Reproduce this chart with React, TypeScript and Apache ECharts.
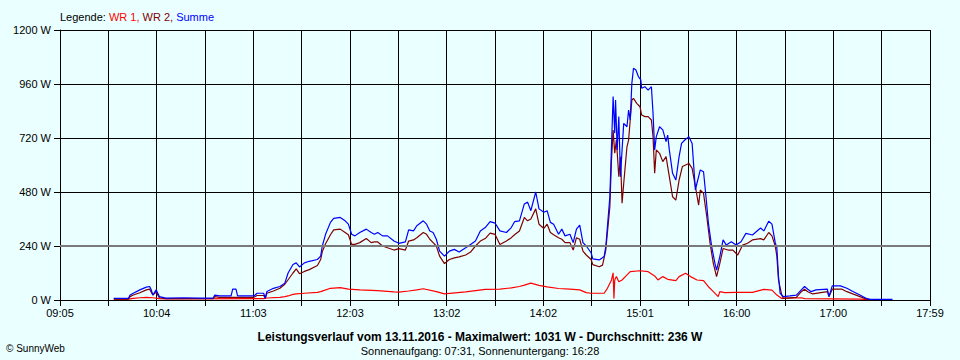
import React, { useEffect, useRef } from "react";
import * as echarts from "echarts";

// X axis tick labels (every second grid line carries a label)
const xTickLabels = ["09:05", "10:04", "11:03", "12:03", "13:02", "14:02", "15:01", "16:00", "17:00", "17:59"];
const yMax = 1200;
const yStep = 240;

const titleText = "Leistungsverlauf vom 13.11.2016 - Maximalwert: 1031 W - Durchschnitt: 236 W";
const subText = "Sonnenaufgang: 07:31, Sonnenuntergang: 16:28";

// WR 1 (red)
const wr1: [string, number][] = [
  ["09:38", 4], ["09:47", 4], ["09:50", 7], ["09:54", 10], ["09:58", 12], ["10:02", 10], ["10:06", 6],
  ["10:10", 5], ["11:10", 6], ["11:12", 9], ["11:20", 12], ["11:23", 15], ["11:25", 18], ["11:28", 25],
  ["11:30", 27], ["11:35", 30], ["11:43", 34], ["11:45", 37], ["11:51", 52], ["11:57", 55], ["12:02", 48],
  ["12:09", 45], ["12:20", 42], ["12:30", 36], ["12:33", 35], ["12:39", 40], ["12:44", 45], ["12:48", 50],
  ["12:56", 37], ["13:01", 27], ["13:14", 36], ["13:20", 42], ["13:26", 47], ["13:35", 48], ["13:42", 54],
  ["13:47", 60], ["13:50", 66], ["13:54", 75], ["13:59", 65], ["14:04", 58], ["14:11", 51], ["14:18", 48],
  ["14:24", 45], ["14:28", 33], ["14:31", 30], ["14:39", 30], ["14:41", 52], ["14:43:30", 89], ["14:44:30", 121],
  ["14:45", 7], ["14:45:30", 89], ["14:46:30", 104], ["14:48", 81], ["14:50", 89], ["14:52", 104], ["14:55", 126],
  ["15:01", 130], ["15:06", 126], ["15:10", 107], ["15:12", 89], ["15:15", 104], ["15:18", 92], ["15:23", 86],
  ["15:25", 104], ["15:29", 119], ["15:32", 104], ["15:36", 89], ["15:40", 86], ["15:43", 59], ["15:46", 37],
  ["15:49", 15], ["15:50", 37], ["15:53", 33], ["16:00", 34], ["16:10", 34], ["16:17", 47], ["16:22", 44],
  ["16:25", 22], ["16:28", 7], ["16:40", 10], ["16:42", 6], ["17:16", 4], ["17:22", 1],
];

// WR 2 (dark red)
const wr2: [string, number][] = [
  ["09:38", 4], ["09:47", 4], ["09:48", 15], ["09:50", 22], ["09:54", 32], ["09:58", 45], ["10:00", 48],
  ["10:01", 35], ["10:02", 22], ["10:04", 35], ["10:06", 10], ["10:08", 8], ["10:10", 6], ["10:39", 6],
  ["10:40", 15], ["10:43", 12], ["11:04", 12], ["11:06", 20], ["11:10", 20], ["11:11", 8], ["11:12", 30],
  ["11:16", 40], ["11:20", 52], ["11:23", 70], ["11:25", 90], ["11:28", 120], ["11:30", 138], ["11:32", 117],
  ["11:35", 127], ["11:38", 135], ["11:43", 153], ["11:45", 180], ["11:46", 215], ["11:48", 250], ["11:51", 290],
  ["11:53", 312], ["11:57", 315], ["12:00", 300], ["12:02", 290], ["12:04", 247], ["12:06", 247], ["12:09", 255],
  ["12:13", 273], ["12:16", 255], ["12:18", 258], ["12:20", 258], ["12:23", 240], ["12:26", 232], ["12:30", 222],
  ["12:33", 228], ["12:37", 222], ["12:39", 262], ["12:42", 267], ["12:44", 277], ["12:48", 300], ["12:50", 292],
  ["12:52", 270], ["12:54", 255], ["12:56", 240], ["12:58", 195], ["13:01", 162], ["13:04", 180], ["13:07", 187],
  ["13:10", 192], ["13:14", 200], ["13:17", 213], ["13:20", 240], ["13:23", 262], ["13:26", 273], ["13:29", 297],
  ["13:32", 292], ["13:35", 247], ["13:39", 262], ["13:42", 277], ["13:44", 290], ["13:47", 307], ["13:50", 367],
  ["13:52", 352], ["13:54", 360], ["13:57", 405], ["13:59", 337], ["14:02", 318], ["14:04", 337], ["14:06", 300],
  ["14:08", 290], ["14:11", 277], ["14:13", 270], ["14:15", 255], ["14:18", 255], ["14:20", 222], ["14:22", 277],
  ["14:24", 270], ["14:26", 217], ["14:28", 200], ["14:31", 180], ["14:32", 157], ["14:36", 148], ["14:38", 155],
  ["14:40", 222], ["14:42:30", 415], ["14:43:30", 622], ["14:44:30", 755], ["14:45:30", 652], ["14:46:30", 711],
  ["14:48", 548], ["14:49", 637], ["14:50", 430], ["14:51", 518], ["14:53", 681], ["14:54", 711], ["14:56", 889],
  ["14:57", 896], ["14:59", 874], ["15:01", 859], ["15:02", 822], ["15:04", 815], ["15:06", 815], ["15:08", 800],
  ["15:09", 726], ["15:10", 563], ["15:11", 667], ["15:13", 652], ["15:15", 615], ["15:17", 637], ["15:19", 548],
  ["15:21", 459], ["15:23", 444], ["15:25", 533], ["15:27", 593], ["15:31", 607], ["15:33", 585], ["15:35", 504],
  ["15:37", 422], ["15:38", 489], ["15:40", 474], ["15:42", 370], ["15:44", 252], ["15:46", 163], ["15:48", 104],
  ["15:50", 163], ["15:52", 229], ["15:55", 222], ["15:58", 222], ["16:01", 200], ["16:04", 244], ["16:07", 252],
  ["16:10", 267], ["16:15", 273], ["16:17", 267], ["16:20", 300], ["16:22", 285], ["16:24", 240], ["16:25", 195],
  ["16:26", 90], ["16:28", 22], ["16:29", 7], ["16:37", 12], ["16:40", 37], ["16:42", 48], ["16:44", 37],
  ["16:47", 27], ["16:56", 37], ["16:57", 15], ["16:59", 48], ["17:05", 48], ["17:08", 37], ["17:16", 15],
  ["17:20", 4], ["17:22", 3],
];

// Summe (blue)
const summe: [string, number][] = [
  ["09:38", 7], ["09:47", 7], ["09:48", 22], ["09:50", 30], ["09:54", 45], ["09:58", 57], ["10:00", 60],
  ["10:01", 45], ["10:02", 22], ["10:04", 45], ["10:06", 15], ["10:08", 12], ["10:10", 8], ["10:21", 10],
  ["10:31", 8], ["10:39", 8], ["10:40", 22], ["10:43", 18], ["10:50", 18], ["10:51", 48], ["10:53", 48],
  ["10:54", 18], ["11:04", 18], ["11:06", 30], ["11:10", 30], ["11:11", 8], ["11:12", 38], ["11:16", 52],
  ["11:20", 60], ["11:23", 75], ["11:25", 120], ["11:28", 158], ["11:30", 165], ["11:32", 147], ["11:35", 165],
  ["11:38", 172], ["11:43", 180], ["11:45", 195], ["11:46", 240], ["11:48", 292], ["11:51", 345], ["11:53", 363],
  ["11:57", 367], ["12:00", 352], ["12:02", 337], ["12:04", 292], ["12:06", 285], ["12:09", 300], ["12:13", 315],
  ["12:16", 300], ["12:18", 292], ["12:20", 300], ["12:23", 285], ["12:26", 285], ["12:30", 262], ["12:33", 252],
  ["12:37", 258], ["12:39", 312], ["12:42", 307], ["12:44", 330], ["12:48", 352], ["12:50", 337], ["12:52", 307],
  ["12:54", 300], ["12:56", 270], ["12:58", 217], ["13:01", 195], ["13:04", 217], ["13:07", 225], ["13:10", 213],
  ["13:14", 232], ["13:17", 247], ["13:20", 262], ["13:23", 307], ["13:26", 322], ["13:29", 348], ["13:32", 342],
  ["13:35", 307], ["13:39", 300], ["13:42", 322], ["13:44", 348], ["13:47", 352], ["13:50", 427], ["13:52", 435],
  ["13:54", 397], ["13:57", 480], ["13:59", 405], ["14:02", 390], ["14:04", 397], ["14:06", 345], ["14:08", 337],
  ["14:11", 292], ["14:13", 315], ["14:15", 285], ["14:18", 292], ["14:20", 255], ["14:22", 315], ["14:24", 333],
  ["14:26", 255], ["14:28", 240], ["14:31", 210], ["14:32", 183], ["14:36", 178], ["14:39", 193], ["14:40", 237],
  ["14:42:30", 459], ["14:43:30", 681], ["14:44:30", 904], ["14:45:30", 741], ["14:46", 889], ["14:47", 667],
  ["14:48", 815], ["14:49", 548], ["14:50", 667], ["14:51", 785], ["14:53", 770], ["14:54", 844], ["14:55", 800],
  ["14:56", 963], ["14:57", 1030], ["14:58:30", 1022], ["15:00", 993], ["15:01:30", 978], ["15:02", 941],
  ["15:04", 948], ["15:06", 933], ["15:08", 948], ["15:09", 830], ["15:10", 667], ["15:11", 726], ["15:13", 770],
  ["15:15", 756], ["15:17", 704], ["15:18", 733], ["15:19", 667], ["15:21", 563], ["15:23", 533], ["15:25", 637],
  ["15:26:30", 696], ["15:28:30", 711], ["15:31", 726], ["15:33", 696], ["15:35", 489], ["15:36", 520],
  ["15:38", 578], ["15:40", 570], ["15:41:30", 459], ["15:43", 341], ["15:45", 237], ["15:47", 163], ["15:48", 133],
  ["15:50", 193], ["15:52", 267], ["15:54", 244], ["15:57", 259], ["16:00", 244], ["16:03", 259], ["16:06", 296],
  ["16:10", 289], ["16:15", 320], ["16:17", 307], ["16:20", 350], ["16:22", 337], ["16:24", 255], ["16:25", 232],
  ["16:26", 105], ["16:27", 30], ["16:29", 15], ["16:33", 18], ["16:37", 22], ["16:40", 45], ["16:42", 60],
  ["16:44", 48], ["16:46", 37], ["16:49", 45], ["16:56", 48], ["16:57", 15], ["16:59", 63], ["17:04", 63],
  ["17:08", 52], ["17:12", 37], ["17:16", 22], ["17:20", 7], ["17:22", 3], ["17:36", 3],
];

const START_MIN = 9 * 60 + 5;
const END_MIN = 17 * 60 + 59;
const GRID_STEPS = 18;
const STEP_MIN = (END_MIN - START_MIN) / GRID_STEPS;

function toX(t: string): number {
  const p = t.split(":").map(Number);
  const m = p[0] * 60 + p[1] + (p[2] || 0) / 60;
  return (m - START_MIN) / STEP_MIN;
}

const FONT = "Liberation Sans, Arial, sans-serif";

export default function App() {
  const ref = useRef<HTMLDivElement>(null);

  useEffect(() => {
    if (!ref.current) return;
    const chart = echarts.init(ref.current, undefined, { renderer: "svg" });
    const mk = (d: [string, number][]) => d.map(([t, v]) => [toX(t), v]);
    chart.setOption({
      animation: false,
      backgroundColor: "#EAFFFF",
      textStyle: { fontFamily: FONT },
      grid: { left: 60, right: 30, top: 30, bottom: 60 },
      xAxis: {
        type: "value",
        min: 0,
        max: GRID_STEPS,
        interval: 1,
        axisLine: { show: true, lineStyle: { color: "#000", width: 1 } },
        axisTick: { show: true, length: 6, lineStyle: { color: "#000", width: 1 } },
        axisLabel: {
          interval: 0,
          color: "#000",
          fontSize: 11,
          fontFamily: FONT,
          margin: 7,
          formatter: (v: number) => {
            const i = Math.round(v);
            return i % 2 === 0 ? xTickLabels[i / 2] ?? "" : "";
          },
        },
        splitLine: { show: true, lineStyle: { color: "#000", width: 1 } },
      },
      yAxis: {
        type: "value",
        min: 0,
        max: yMax,
        interval: yStep,
        axisLine: { show: true, lineStyle: { color: "#000", width: 1 } },
        axisTick: { show: true, length: 6, lineStyle: { color: "#000", width: 1 } },
        axisLabel: {
          color: "#000",
          fontSize: 11,
          fontFamily: FONT,
          margin: 9,
          formatter: (v: number) => `${Math.round(v)} W`,
        },
        splitLine: { show: true, lineStyle: { color: "#000", width: 1 } },
      },
      series: [
        {
          name: "WR 1",
          type: "line",
          data: mk(wr1),
          symbol: "none",
          lineStyle: { color: "#FF0000", width: 1.2 },
          itemStyle: { color: "#FF0000" },
          markLine: {
            silent: true,
            symbol: ["none", "none"],
            label: { show: false },
            lineStyle: { color: "#7a7a7a", width: 2, type: "solid" },
            data: [{ yAxis: 240 }],
          },
        },
        {
          name: "WR 2",
          type: "line",
          data: mk(wr2),
          symbol: "none",
          lineStyle: { color: "#800000", width: 1.2 },
          itemStyle: { color: "#800000" },
        },
        {
          name: "Summe",
          type: "line",
          data: mk(summe),
          symbol: "none",
          lineStyle: { color: "#0000FF", width: 1.2 },
          itemStyle: { color: "#0000FF" },
        },
      ],
      graphic: [
        {
          type: "text",
          x: 60,
          y: 17,
          style: {
            text: "{a|Legende: }{r|WR 1, }{d|WR 2, }{b|Summe}",
            font: `11px ${FONT}`,
            textVerticalAlign: "middle",
            rich: {
              a: { fill: "#000", font: `11px ${FONT}` },
              r: { fill: "#FF0000", font: `11px ${FONT}` },
              d: { fill: "#800000", font: `11px ${FONT}` },
              b: { fill: "#0000FF", font: `11px ${FONT}` },
            },
          },
        },
        {
          type: "text",
          x: 480,
          y: 337,
          style: {
            text: titleText,
            font: `bold 12px ${FONT}`,
            fill: "#000",
            textAlign: "center",
            textVerticalAlign: "middle",
          },
        },
        {
          type: "text",
          x: 480,
          y: 351,
          style: {
            text: subText,
            font: `11px ${FONT}`,
            fill: "#000",
            textAlign: "center",
            textVerticalAlign: "middle",
          },
        },
        {
          type: "text",
          x: 6,
          y: 348,
          style: {
            text: "© SunnyWeb",
            font: `10px ${FONT}`,
            fill: "#000",
            textAlign: "left",
            textVerticalAlign: "middle",
          },
        },
      ],
    });
    return () => chart.dispose();
  }, []);

  return <div ref={ref} style={{ position: "absolute", left: 0, top: 0, width: 960, height: 360 }} />;
}
